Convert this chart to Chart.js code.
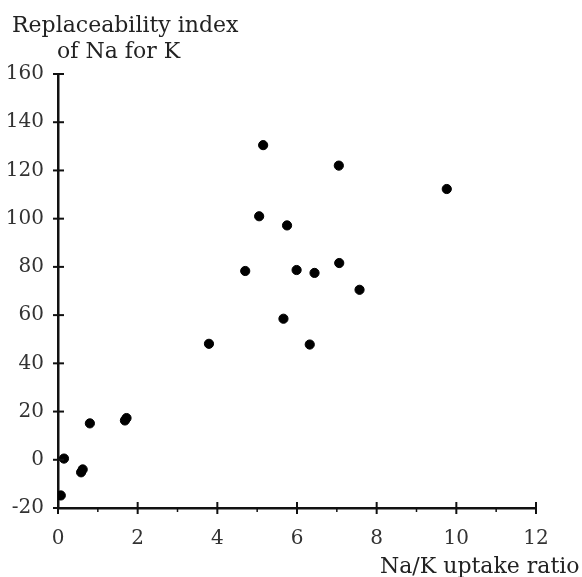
<!DOCTYPE html>
<html>
<head>
<meta charset="utf-8">
<script src="https://cdn.jsdelivr.net/npm/chart.js@4/dist/chart.umd.min.js"></script>
<style>
  html, body { margin: 0; padding: 0; background: #fff; }
  #wrap { width: 582px; height: 577px; }
</style>
</head>
<body>
<div id="wrap"><canvas id="scatterChart"></canvas></div>
<script>
// Na/K uptake ratio vs replaceability index
var uptakeRatio = [0.07, 0.15, 0.58, 0.62, 0.80, 1.68, 1.72, 3.79, 4.70, 5.05,
                   5.15, 5.66, 5.75, 5.99, 6.32, 6.44, 7.05, 7.06, 7.57, 9.76];
var replaceIndex = [-14.8, 0.5, -5.2, -4.0, 15.1, 16.3, 17.3, 48.1, 78.3, 101,
                    130.5, 58.5, 97.2, 78.7, 47.8, 77.5, 122, 81.6, 70.5, 112.3];
var xTicks = [0, 2, 4, 6, 8, 10, 12];
var yTicks = [-20, 0, 20, 40, 60, 80, 100, 120, 140, 160];
var xTitle = "Na/K uptake ratio";
var yTitle = ["Replaceability index", "of Na for K"];

var points = uptakeRatio.map(function (x, i) { return { x: x, y: replaceIndex[i] }; });

var serif = "'DejaVu Serif', 'Liberation Serif', serif";

// crossing tick marks + titles drawn on top
var axisDecor = {
  id: 'axisDecor',
  afterDraw: function (chart) {
    var c = chart.ctx, xs = chart.scales.x, ys = chart.scales.y;
    var x0 = xs.getPixelForValue(0), y0 = ys.getPixelForValue(-20);
    c.save();
    c.strokeStyle = '#111';
    c.lineWidth = 2;
    yTicks.forEach(function (v) {
      var py = ys.getPixelForValue(v);
      c.beginPath(); c.moveTo(x0 - 5, py); c.lineTo(x0 + 6, py); c.stroke();
    });
    xTicks.forEach(function (v) {
      var px = xs.getPixelForValue(v);
      c.beginPath(); c.moveTo(px, y0 - 6); c.lineTo(px, y0 + 6); c.stroke();
    });
    // minor ticks at odd values
    c.lineWidth = 1.5;
    for (var v = 1; v < 12; v += 2) {
      var px = xs.getPixelForValue(v);
      c.beginPath(); c.moveTo(px, y0); c.lineTo(px, y0 + 4); c.stroke();
    }
    c.fillStyle = '#222';
    c.font = '22px ' + serif;
    c.textBaseline = 'alphabetic';
    c.textAlign = 'left';
    c.fillText(yTitle[0], 12, 32);
    c.fillText(yTitle[1], 57, 58);
    c.fillText(xTitle, 380, 573);
    c.restore();
  }
};

var ctx = document.getElementById("scatterChart").getContext('2d');
var myScatter = new Chart(ctx, {
  type: 'scatter',
  data: {
    datasets: [{
      label: 'index',
      data: points,
      backgroundColor: '#000',
      borderColor: '#000',
      pointRadius: 4.6,
      pointHoverRadius: 4.6
    }]
  },
  options: {
    responsive: true,
    maintainAspectRatio: false,
    animation: false,
    layout: { padding: { top: 74, right: 46, left: 0, bottom: 0 } },
    plugins: { legend: { display: false }, tooltip: { enabled: false } },
    scales: {
      x: {
        type: 'linear', min: 0, max: 12,
        afterBuildTicks: function (s) { s.ticks = xTicks.map(function (v) { return { value: v }; }); },
        afterFit: function (s) { s.height = 69; },
        grid: { display: false },
        border: { display: true, color: '#111', width: 2.5 },
        ticks: { color: '#333', padding: 11, font: { family: serif, size: 20 } }
      },
      y: {
        type: 'linear', min: -20, max: 160,
        afterBuildTicks: function (s) { s.ticks = yTicks.map(function (v) { return { value: v }; }); },
        afterFit: function (s) { s.width = 58; },
        grid: { display: false },
        border: { display: true, color: '#111', width: 2.5 },
        ticks: { color: '#333', padding: 6, font: { family: serif, size: 20 } }
      }
    }
  },
  plugins: [axisDecor]
});
</script>
</body>
</html>
